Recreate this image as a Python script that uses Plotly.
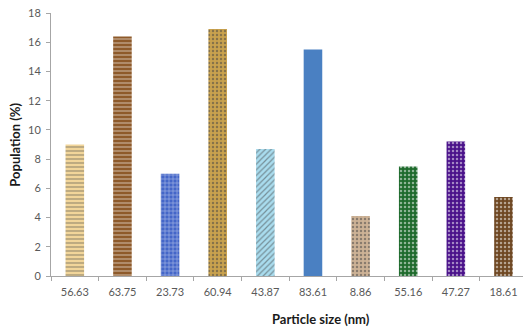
import plotly.graph_objects as go

# Particle-size classes (nm) and their population share (%)
sizes = ["56.63", "63.75", "23.73", "60.94", "43.87", "83.61", "8.86", "55.16", "47.27", "18.61"]
population = [9.0, 16.4, 7.0, 16.9, 8.7, 15.5, 4.1, 7.5, 9.2, 5.4]

# Textured fills: background colour, texture colour, texture shape
bg_colors = ["#F1D59A", "#8E5A2A", "#4466C8", "#C9A24E", "#A9DCEE",
             "#4A80C2", "#CDB296", "#1E6A2C", "#4A128A", "#6E4722"]
fg_colors = ["#F8E4B6", "#552F12", "#C9D5F2", "#86612A", "#D4EEF8",
             "#4A80C2", "#A38A6E", "#0F4A1C", "#40107A", "#46290F"]
shapes = ["-", "-", "+", ".", "/", "", ".", ".", ".", "."]

fig = go.Figure(
    go.Bar(
        x=sizes,
        y=population,
        width=0.39,
        marker=dict(
            color=bg_colors,
            line=dict(width=0),
            pattern=dict(
                shape=shapes,
                fgcolor=fg_colors,
                bgcolor=bg_colors,
                size=4,
                solidity=0.3,
                fillmode="overlay",
            ),
        ),
    )
)

axis_font = dict(family="Lato, 'Open Sans', sans-serif", size=11, color="#595959")
title_font = dict(family="Lato, 'Open Sans', sans-serif", size=13, color="#1a1a1a")

fig.update_layout(
    width=524,
    height=329,
    margin=dict(l=51, r=1, t=13, b=53),
    paper_bgcolor="white",
    plot_bgcolor="white",
    showlegend=False,
    xaxis=dict(
        type="category",
        range=[-0.5, 9.41],
        showline=True,
        linecolor="#A6A6A6",
        linewidth=1,
        ticks="outside",
        tickson="boundaries",
        ticklen=4,
        tickcolor="#A6A6A6",
        showgrid=False,
        tickfont=axis_font,
        ticklabelstandoff=6,
        zeroline=False,
    ),
    yaxis=dict(
        range=[0, 18],
        dtick=2,
        showline=True,
        linecolor="#A6A6A6",
        linewidth=1,
        ticks="outside",
        ticklen=4,
        tickcolor="#A6A6A6",
        showgrid=False,
        zeroline=False,
        tickfont=axis_font,
        ticklabelstandoff=3,
    ),
    annotations=[
        dict(
            text="<b>Particle size (nm)</b>",
            xref="paper", yref="paper",
            x=(321 - 51) / 472, y=-0.125,
            xanchor="center", yanchor="top",
            showarrow=False,
            font=title_font,
        ),
        dict(
            text="<b>Population (%)</b>",
            xref="paper", yref="paper",
            x=-0.078, y=0.5,
            xanchor="center", yanchor="middle",
            textangle=-90,
            showarrow=False,
            font=title_font,
        ),
    ],
)

fig.write_html("out.html")
